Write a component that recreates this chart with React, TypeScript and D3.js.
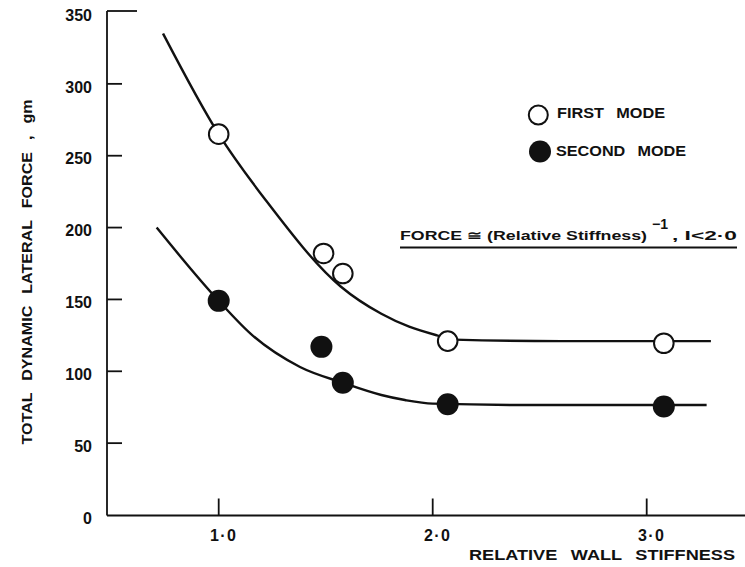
import * as d3 from "d3";

// values
const xTicks = [1, 2, 3];
const xTickLabels = ["1·0", "2·0", "3·0"];
const yTicks = [0, 50, 100, 150, 200, 250, 300, 350];

const firstModeX = [1.0, 1.49, 1.58, 2.07, 3.08];
const firstModeY = [265, 182, 168, 121, 119.5];
const secondModeX = [1.0, 1.48, 1.58, 2.07, 3.08];
const secondModeY = [149, 117, 92, 77, 75.5];

// fitted curves
const firstCurveX = [0.74, 1.0, 1.22, 1.57, 1.76, 1.89, 2.02, 2.1, 2.6, 3.3];
const firstCurveY = [335, 265, 219, 159, 140, 131, 125, 122, 121, 121];
const secondCurveX = [0.71, 1.0, 1.15, 1.38, 1.58, 1.76, 1.87, 2.0, 2.5, 3.28];
const secondCurveY = [200, 149, 126, 103, 92, 83.5, 80, 77.5, 76.5, 76.5];

const W = 745;
const H = 567;
const FONT = "'Liberation Sans', Arial, sans-serif";

export default function App() {
  const x = d3.scaleLinear().domain([1, 3]).range([218.7, 646.7]);
  const y = d3.scaleLinear().domain([0, 350]).range([515, 12]);

  const line = d3
    .line<[number, number]>()
    .x((d) => x(d[0]))
    .y((d) => y(d[1]))
    .curve(d3.curveMonotoneX);

  const firstCurve = firstCurveX.map((v, i) => [v, firstCurveY[i]] as [number, number]);
  const secondCurve = secondCurveX.map((v, i) => [v, secondCurveY[i]] as [number, number]);

  const axisX = 107;
  const axisY = 515.5;

  return (
    <div style={{ position: "fixed", left: 0, top: 0 }}>
      <svg width={W} height={H} viewBox={`0 0 ${W} ${H}`} style={{ display: "block", background: "#fff" }}>
        {/* axes */}
        <g stroke="#111" strokeWidth={1.8} fill="none">
          <line x1={axisX} y1={y(350) - 1} x2={axisX} y2={axisY} />
          <line x1={axisX} y1={axisY} x2={W} y2={axisY} />
          <line x1={axisX} y1={y(350) - 1} x2={axisX + 30} y2={y(350) - 1} />
          {yTicks
            .filter((t) => t > 0 && t < 350)
            .map((t) => (
              <line key={t} x1={axisX} y1={y(t)} x2={axisX + 15} y2={y(t)} />
            ))}
          {xTicks.map((t) => (
            <line key={t} x1={x(t)} y1={axisY} x2={x(t)} y2={axisY - 17} />
          ))}
        </g>

        {/* tick labels */}
        <g fontFamily={FONT} fontWeight="bold" fontSize={16} fill="#111">
          {yTicks.map((t) => (
            <text key={t} x={92} y={y(t) + 3 + 5.7} textAnchor="end">
              {t}
            </text>
          ))}
          {xTicks.map((t, i) => (
            <text key={t} x={x(t) + 5} y={540.5} textAnchor="middle" letterSpacing={1.5}>
              {xTickLabels[i]}
            </text>
          ))}
        </g>

        {/* axis titles */}
        <g fontFamily={FONT} fontWeight="bold" fontSize={15} fill="#111" wordSpacing={7}>
          <text x={469} y={559.5} textLength={266} lengthAdjust="spacingAndGlyphs">
            RELATIVE WALL STIFFNESS
          </text>
          <text
            transform={`translate(32,${272}) rotate(-90)`}
            textAnchor="middle"
            textLength={345}
            lengthAdjust="spacingAndGlyphs"
          >
            TOTAL DYNAMIC LATERAL FORCE , gm
          </text>
        </g>

        {/* curves */}
        <path d={line(firstCurve) ?? ""} fill="none" stroke="#111" strokeWidth={2.4} />
        <path d={line(secondCurve) ?? ""} fill="none" stroke="#111" strokeWidth={2.4} />

        {/* points */}
        {firstModeX.map((v, i) => (
          <circle
            key={"f" + i}
            cx={x(v)}
            cy={y(firstModeY[i])}
            r={9.8}
            fill="#fff"
            stroke="#111"
            strokeWidth={2}
          />
        ))}
        {secondModeX.map((v, i) => (
          <circle key={"s" + i} cx={x(v)} cy={y(secondModeY[i])} r={11} fill="#111" />
        ))}

        {/* legend */}
        <circle cx={538.3} cy={115} r={9.5} fill="#fff" stroke="#111" strokeWidth={2} />
        <circle cx={540} cy={151.5} r={11} fill="#111" />
        <g fontFamily={FONT} fontWeight="bold" fontSize={15} fill="#111" wordSpacing={7}>
          <text x={557} y={118} textLength={108} lengthAdjust="spacingAndGlyphs">
            FIRST MODE
          </text>
          <text x={556} y={155.5} textLength={130} lengthAdjust="spacingAndGlyphs">
            SECOND MODE
          </text>
        </g>

        {/* annotation */}
        <g fontFamily={FONT} fontWeight="bold" fontSize={13} fill="#111">
          <text x={400} y={240} textLength={247} lengthAdjust="spacingAndGlyphs">
            FORCE ≅ (Relative Stiffness)
          </text>
          <text x={652} y={229} fontSize={14} textLength={16} lengthAdjust="spacingAndGlyphs">
            −1
          </text>
          <text x={672} y={240} textLength={65} lengthAdjust="spacingAndGlyphs">
            , I&lt;2·0
          </text>
        </g>
        <line x1={400} y1={247.5} x2={737} y2={247.5} stroke="#111" strokeWidth={1.8} />
      </svg>
    </div>
  );
}
